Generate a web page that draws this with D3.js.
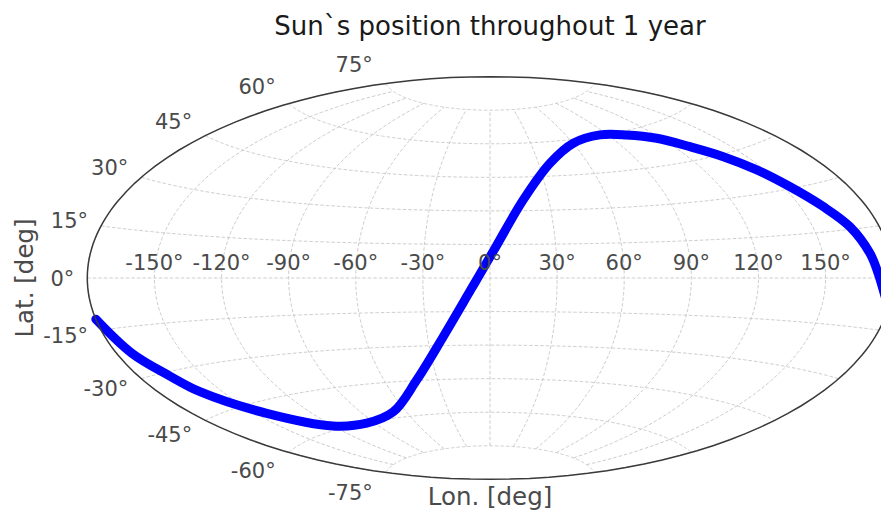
<!DOCTYPE html>
<html>
<head>
<meta charset="utf-8">
<script src="https://cdn.jsdelivr.net/npm/d3@7"></script>
<style>
  body { margin: 0; background: #fff; }
  text { font-family: "DejaVu Sans", sans-serif; }
</style>
</head>
<body>
<svg id="chart" width="881" height="514"></svg>
<script>
// Tick values (degrees)
const lonTicks = [-150, -120, -90, -60, -30, 0, 30, 60, 90, 120, 150];
const latTicks = [-75, -60, -45, -30, -15, 0, 15, 30, 45, 60, 75];

// Sun track over one year: longitude / latitude in degrees
const sunLon = [-180, -173.1, -165.8, -160.7, -144.3, -120.1, -95.7, -68.8, -41.8, -22.5,
                -8.7, -5.5, 2.7, 17.0, 37.1, 60.3, 84.7, 102.2, 117.5, 128.7,
                138.4, 146.3, 153.2, 160.5, 166.8, 171.2, 173.5, 178.1, 180];
const sunLat = [-11.8, -22.8, -31.2, -37.7, -49.1, -58.5, -60.2, -57.4, -44.8, -26.1,
                -5.4, 0, 14.0, 34.8, 50.6, 58.4, 60.3, 58.5, 55.1, 49.8,
                44.2, 37.8, 30.6, 22.9, 15.8, 7.4, 1.5, -6.3, -8.5];

const W = 881, H = 514;
const cx = 490, cy = 278, rx = 402.7;

// Aitoff projection
function aitoffRaw(l, p) {
  const cp = Math.cos(p);
  const a = Math.acos(cp * Math.cos(l / 2));
  const s = a ? a / Math.sin(a) : 1;
  return [2 * cp * Math.sin(l / 2) * s, Math.sin(p) * s];
}
const proj = d3.geoProjection(aitoffRaw)
  .scale(rx / Math.PI)
  .translate([cx, cy])
  .precision(0.1);
const geoPath = d3.geoPath(proj);

const svg = d3.select("#chart");
const line = d3.line();

// Grid: meridians every 30° (stopping at ±75°), parallels every 15°
const grid = svg.append("g")
  .attr("fill", "none")
  .attr("stroke", "#c6c6c6")
  .attr("stroke-width", 0.9)
  .attr("stroke-dasharray", "3.5,2");
d3.range(-180, 181, 30).forEach(lon => {
  const pts = d3.range(-75, 75.01, 1).map(lat => proj([lon, lat]));
  grid.append("path").attr("d", line(pts));
});
latTicks.forEach(lat => {
  const pts = d3.range(-180, 180.01, 1).map(lon => proj([lon, lat]));
  grid.append("path").attr("d", line(pts));
});

// Sun track
const track = sunLon.map((lon, i) => proj([lon, sunLat[i]]));
svg.append("path")
  .attr("d", d3.line().curve(d3.curveCatmullRom)(track))
  .attr("fill", "none")
  .attr("stroke", "#0000ff")
  .attr("stroke-width", 9)
  .attr("stroke-linecap", "round")
  .attr("stroke-linejoin", "round");

// Outline of the map
svg.append("path")
  .attr("d", geoPath({type: "Sphere"}))
  .attr("fill", "none")
  .attr("stroke", "#3a3a3a")
  .attr("stroke-width", 1.5);

// Longitude tick labels along the equator
const tickColor = "#4a4a4a";
lonTicks.forEach(lon => {
  const p = proj([lon, 0]);
  svg.append("text")
    .attr("x", p[0]).attr("y", p[1] - 8.5)
    .attr("text-anchor", "middle")
    .attr("font-size", 21)
    .attr("fill", tickColor)
    .text(lon + "°");
});

// Latitude tick labels just outside the left edge
latTicks.forEach(lat => {
  const p = proj([-180, lat]);
  const y = cy - 1.1 * (cy - p[1]);
  svg.append("text")
    .attr("x", p[0] - 13).attr("y", y + 7.7)
    .attr("text-anchor", "end")
    .attr("font-size", 21)
    .attr("fill", tickColor)
    .text(lat + "°");
});

// Axis titles
svg.append("text")
  .attr("x", cx).attr("y", 505)
  .attr("text-anchor", "middle")
  .attr("font-size", 24.5)
  .attr("fill", tickColor)
  .text("Lon. [deg]");
svg.append("text")
  .attr("transform", `translate(33,${cy}) rotate(-90)`)
  .attr("text-anchor", "middle")
  .attr("font-size", 24.5)
  .attr("fill", tickColor)
  .text("Lat. [deg]");

// Chart title
svg.append("text")
  .attr("x", cx).attr("y", 35)
  .attr("text-anchor", "middle")
  .attr("font-size", 26)
  .attr("fill", "#1a1a1a")
  .text("Sun`s position throughout 1 year");
</script>
</body>
</html>
